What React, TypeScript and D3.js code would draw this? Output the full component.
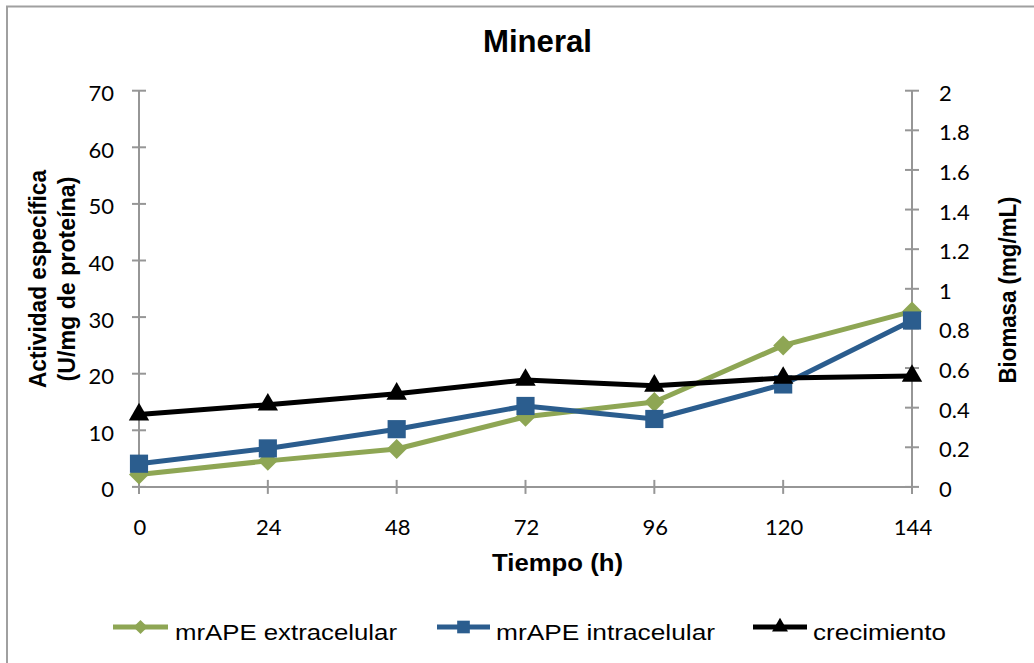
import React from "react";
import * as d3 from "d3";

const categories = ["0", "24", "48", "72", "96", "120", "144"];
const extracelular = [2.2, 4.6, 6.7, 12.4, 15.0, 25.0, 31.0];
const intracelular = [4.1, 6.8, 10.2, 14.3, 12.0, 18.1, 29.4];
const crecimiento = [0.365, 0.415, 0.47, 0.54, 0.51, 0.55, 0.56];
const leftTicks = [0, 10, 20, 30, 40, 50, 60, 70];
const rightTicks = [0, 0.2, 0.4, 0.6, 0.8, 1, 1.2, 1.4, 1.6, 1.8, 2];

const GREEN = "#8ea654";
const BLUE = "#2b5d8e";
const BLACK = "#000000";
const AXIS = "#969696";

export default function App() {
  const x = d3.scalePoint<string>().domain(categories).range([139, 912]);
  const yL = d3.scaleLinear().domain([0, 70]).range([486.9, 90.7]);
  const yR = d3.scaleLinear().domain([0, 2]).range([486.9, 90.7]);

  const lineL = d3
    .line<number>()
    .x((_, i) => x(categories[i]) as number)
    .y((d) => yL(d));
  const lineR = d3
    .line<number>()
    .x((_, i) => x(categories[i]) as number)
    .y((d) => yR(d));

  const square = d3.symbol().type(d3.symbolSquare).size(330)();
  const diamond = d3.symbol().type(d3.symbolSquare).size(200)();
  const triangle = d3.symbol().type(d3.symbolTriangle).size(180)();
  const squareS = d3.symbol().type(d3.symbolSquare).size(160)();
  const diamondS = d3.symbol().type(d3.symbolSquare).size(100)();
  const triangleS = d3.symbol().type(d3.symbolTriangle).size(110)();

  const tickFont = "Lato, 'Open Sans', sans-serif";
  const boldFont = "'Liberation Sans', Arial, sans-serif";

  const legend = [
    { label: "mrAPE extracelular", color: GREEN, x0: 113, x1: 168, tx: 175, tl: 222, sym: diamondS, rot: 45 },
    { label: "mrAPE intracelular", color: BLUE, x0: 437, x1: 490, tx: 496, tl: 219, sym: squareS, rot: 0 },
    { label: "crecimiento", color: BLACK, x0: 753, x1: 807, tx: 813, tl: 133, sym: triangleS, rot: 0 },
  ];

  return (
    <svg
      width={1034}
      height={663}
      style={{ position: "absolute", left: 0, top: 0, background: "#fff" }}
    >
      <rect x={0} y={0} width={1034} height={663} fill="#fff" />
      <rect x={7} y={6.5} width={1040} height={670} fill="none" stroke="#a0a0a0" strokeWidth={2} />

      {/* Title */}
      <text x={537.5} y={52} textAnchor="middle" fontFamily={boldFont} fontWeight="bold" fontSize={31} textLength={109} lengthAdjust="spacingAndGlyphs">
        Mineral
      </text>

      {/* Left axis */}
      <line x1={139} x2={139} y1={yL(70)} y2={yL(0)} stroke={AXIS} strokeWidth={2} />
      {leftTicks.map((t) => (
        <g key={"l" + t}>
          <line x1={132} x2={146} y1={yL(t)} y2={yL(t)} stroke={AXIS} strokeWidth={2} />
          <text x={114} y={yL(t) + 10.5} textAnchor="end" fontFamily={tickFont} fontSize={22} fill="#000">
            {t}
          </text>
        </g>
      ))}

      {/* Right axis */}
      <line x1={912} x2={912} y1={yR(2)} y2={yR(0)} stroke={AXIS} strokeWidth={2} />
      {rightTicks.map((t) => (
        <g key={"r" + t}>
          <line x1={905} x2={919} y1={yR(t)} y2={yR(t)} stroke={AXIS} strokeWidth={2} />
          <text x={939} y={yR(t) + 10} textAnchor="start" fontFamily={tickFont} fontSize={22} fill="#000">
            {t}
          </text>
        </g>
      ))}

      {/* Bottom axis */}
      <line x1={139} x2={912} y1={yL(0)} y2={yL(0)} stroke={AXIS} strokeWidth={2} />
      {categories.map((c) => (
        <g key={"x" + c}>
          <line x1={x(c)} x2={x(c)} y1={yL(0) - 7} y2={yL(0) + 7} stroke={AXIS} strokeWidth={2} />
          <text x={(x(c) as number) + 1} y={535} textAnchor="middle" fontFamily={tickFont} fontSize={22} fill="#000">
            {c}
          </text>
        </g>
      ))}

      {/* Axis titles */}
      <text x={557.5} y={571} textAnchor="middle" fontFamily={boldFont} fontWeight="bold" fontSize={24} textLength={131} lengthAdjust="spacingAndGlyphs">
        Tiempo (h)
      </text>
      <g transform="translate(46,279) rotate(-90)">
        <text x={0} y={0} textAnchor="middle" fontFamily={boldFont} fontWeight="bold" fontSize={24} textLength={218} lengthAdjust="spacingAndGlyphs">
          Actividad específica
        </text>
      </g>
      <g transform="translate(75,279) rotate(-90)">
        <text x={0} y={0} textAnchor="middle" fontFamily={boldFont} fontWeight="bold" fontSize={24} textLength={205} lengthAdjust="spacingAndGlyphs">
          (U/mg de proteína)
        </text>
      </g>
      <g transform="translate(1016,290) rotate(-90)">
        <text x={0} y={0} textAnchor="middle" fontFamily={boldFont} fontWeight="bold" fontSize={24} textLength={187} lengthAdjust="spacingAndGlyphs">
          Biomasa (mg/mL)
        </text>
      </g>

      {/* Series: extracelular */}
      <path d={lineL(extracelular) || ""} fill="none" stroke={GREEN} strokeWidth={5} strokeLinejoin="round" />
      {extracelular.map((v, i) => (
        <path key={"g" + i} d={diamond || ""} fill={GREEN} transform={`translate(${x(categories[i])},${yL(v)}) rotate(45)`} />
      ))}

      {/* Series: intracelular */}
      <path d={lineL(intracelular) || ""} fill="none" stroke={BLUE} strokeWidth={5} strokeLinejoin="round" />
      {intracelular.map((v, i) => (
        <path key={"b" + i} d={square || ""} fill={BLUE} transform={`translate(${x(categories[i])},${yL(v)})`} />
      ))}

      {/* Series: crecimiento */}
      <path d={lineR(crecimiento) || ""} fill="none" stroke={BLACK} strokeWidth={5} strokeLinejoin="round" />
      {crecimiento.map((v, i) => (
        <path key={"k" + i} d={triangle || ""} fill={BLACK} transform={`translate(${x(categories[i])},${yR(v)})`} />
      ))}

      {/* Legend */}
      {legend.map((l) => (
        <g key={l.label}>
          <line x1={l.x0} x2={l.x1} y1={627} y2={627} stroke={l.color} strokeWidth={5} />
          <path d={l.sym || ""} fill={l.color} transform={`translate(${(l.x0 + l.x1) / 2},627) rotate(${l.rot})`} />
          <text x={l.tx} y={640} fontFamily={boldFont} fontSize={22} textLength={l.tl} lengthAdjust="spacingAndGlyphs" fill="#000">
            {l.label}
          </text>
        </g>
      ))}
    </svg>
  );
}
